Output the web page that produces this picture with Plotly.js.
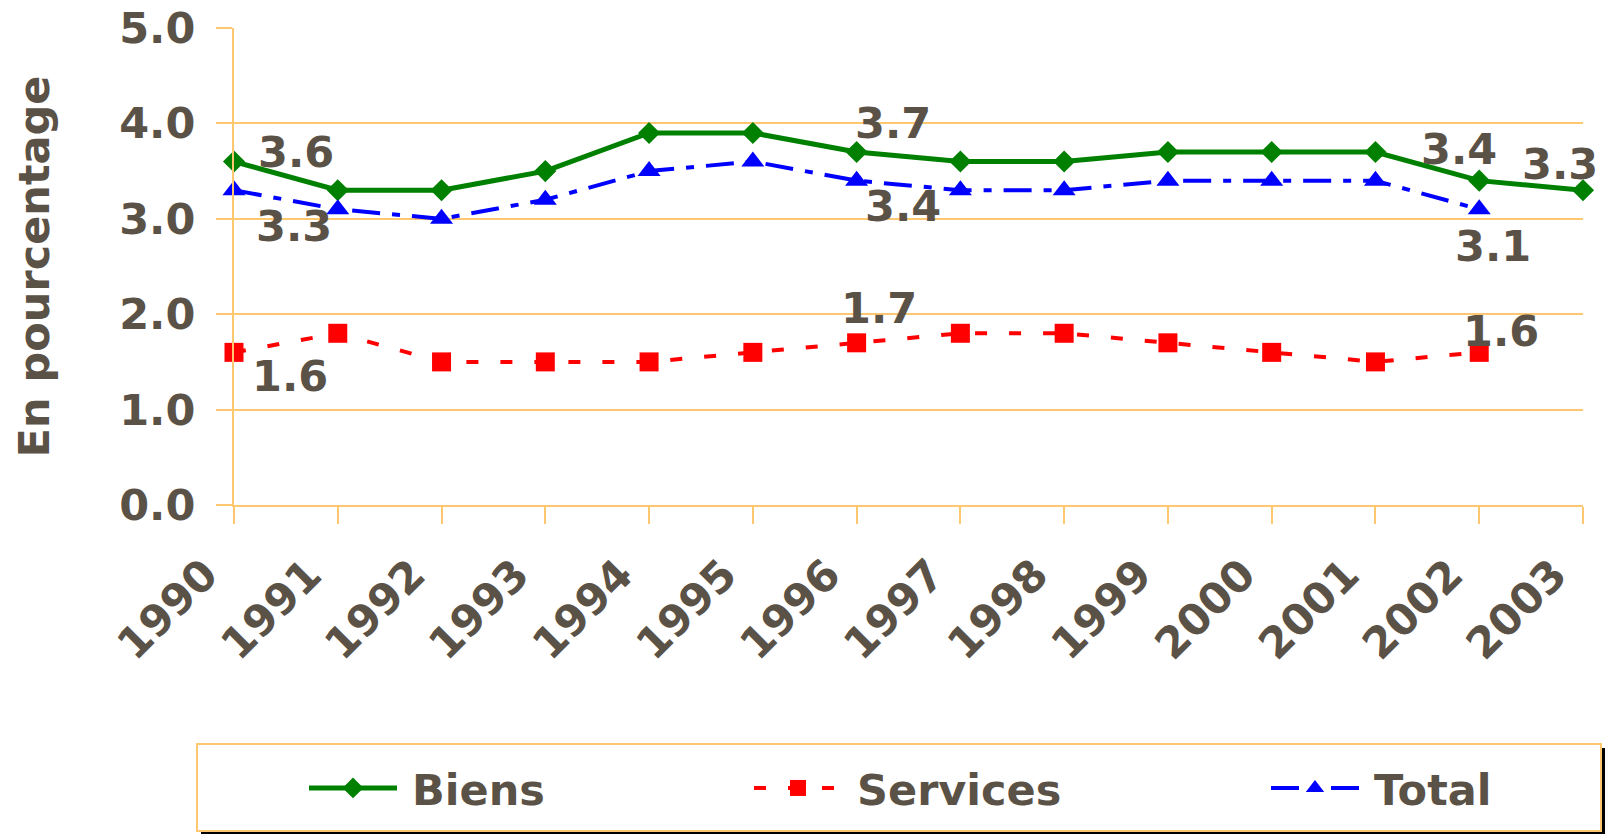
<!DOCTYPE html>
<html>
<head>
<meta charset="utf-8">
<script src="https://cdn.plot.ly/plotly-3.0.1.min.js"></script>
<style>html,body{margin:0;padding:0;background:#fff;}#chart{width:1609px;height:834px;}</style>
</head>
<body>
<div id="chart"></div>
<script>
const years = [1990,1991,1992,1993,1994,1995,1996,1997,1998,1999,2000,2001,2002,2003];
const biens = [3.6,3.3,3.3,3.5,3.9,3.9,3.7,3.6,3.6,3.7,3.7,3.7,3.4,3.3];
const services = [1.6,1.8,1.5,1.5,1.5,1.6,1.7,1.8,1.8,1.7,1.6,1.5,1.6,null];
const total = [3.3,3.1,3.0,3.2,3.5,3.6,3.4,3.3,3.3,3.4,3.4,3.4,3.1,null];
const yTicks = [0,1,2,3,4,5];
const labelIdxBiens = [0,6,12,13];
const labelIdxServices = [0,6,12];
const labelIdxTotal = [0,6,12];

const FONT = 'DejaVu Sans';
const TXT = '#5b5247';
const ORANGE = '#FFC870';
const FS = 43;

const traces = [
  {x: years, y: biens, name: 'Biens', legend: 'legend', mode: 'lines+markers', cliponaxis: false,
   line: {color: '#008000', width: 5}, marker: {symbol: 'diamond', size: 17, color: '#008000'}},
  {x: years, y: services, name: 'Services', legend: 'legend2', mode: 'lines+markers', cliponaxis: false,
   line: {color: '#FF0000', width: 4, dash: '12px,22px'}, marker: {symbol: 'square', size: 19, color: '#FF0000'}},
  {x: years, y: total, name: 'Total', legend: 'legend3', mode: 'lines+markers', cliponaxis: false,
   line: {color: '#0000FF', width: 4, dash: '28px,12px,8px,12px'}, marker: {symbol: 'triangle-up', size: 20, color: '#0000FF'}}
];

function lab(series, idx, shifts) {
  return idx.map((i, k) => ({
    x: years[i], y: series[i], xref: 'x', yref: 'y', text: series[i].toFixed(1),
    showarrow: false, xanchor: 'center', yanchor: 'middle',
    xshift: shifts[k][0], yshift: shifts[k][1],
    font: {family: FONT, size: FS, color: TXT, weight: 'bold'}
  }));
}
const annotations = [].concat(
  lab(biens, labelIdxBiens, [[62,10],[36,29],[-20,32],[-23,26]]),
  lab(total, labelIdxTotal, [[60,-36],[46,-25],[14,-37]]),
  lab(services, labelIdxServices, [[56,-24],[22,35],[22,21]])
);

const pw = 1349, ph = 477;
const shapes = [
  {type: 'rect', xref: 'paper', yref: 'paper', layer: 'below',
   x0: (197-234+4)/pw, x1: (1601-234+4)/pw, y0: (505-831-4)/ph, y1: (505-744-4)/ph,
   fillcolor: '#000', line: {width: 0}},
  {type: 'rect', xref: 'paper', yref: 'paper', layer: 'below',
   x0: (197-234)/pw, x1: (1601-234)/pw, y0: (505-831)/ph, y1: (505-744)/ph,
   fillcolor: '#fff', line: {color: ORANGE, width: 2}}
];

function leg(textStart) {
  return {orientation: 'h', x: (textStart - 40 - 234)/pw, xanchor: 'left', y: (505-788)/ph, yanchor: 'middle',
    bgcolor: 'rgba(0,0,0,0)', borderwidth: 0,
    font: {family: FONT, size: FS, color: TXT, weight: 'bold'}};
}

const layout = {
  width: 1609, height: 834,
  margin: {l: 234, r: 26, t: 28, b: 329, autoexpand: false},
  paper_bgcolor: '#fff', plot_bgcolor: '#fff',
  showlegend: true,
  font: {family: FONT, size: FS, color: TXT, weight: 'bold'},
  xaxis: {range: [1990, 2003], tickmode: 'array', tickvals: years, ticktext: years.map(String),
    tickangle: -45, showgrid: false, zeroline: false, showline: true, linecolor: ORANGE, linewidth: 2,
    ticks: 'outside', ticklen: 17, tickwidth: 2, tickcolor: ORANGE, ticklabelstandoff: 8, ticklabelshift: -29,
    tickfont: {family: FONT, size: FS, color: TXT, weight: 'bold'}, automargin: false},
  yaxis: {range: [0, 5], tickmode: 'array', tickvals: yTicks, ticktext: yTicks.map(v => v.toFixed(1)),
    showgrid: true, gridcolor: ORANGE, gridwidth: 2, zeroline: false, showline: true, linecolor: ORANGE, linewidth: 2,
    ticks: 'outside', ticklen: 16, tickwidth: 2, tickcolor: ORANGE, ticklabelstandoff: 12,
    tickfont: {family: FONT, size: FS, color: TXT, weight: 'bold'}, automargin: false,
    title: {text: 'En pourcentage', standoff: 56, font: {family: FONT, size: FS, color: TXT, weight: 'bold'}}},
  legend: leg(412),
  legend2: leg(857),
  legend3: leg(1374),
  annotations: annotations,
  shapes: shapes
};

Plotly.newPlot('chart', traces, layout, {displayModeBar: false, staticPlot: true}).then(function (gd) {
  // Excel-style long legend samples placed left of the legend text
  gd.querySelectorAll('g.traces').forEach(function (tr) {
    let el = tr.parentNode;
    while (el && el.tagName && el.tagName.toLowerCase() !== 'svg') {
      if (el.hasAttribute && el.hasAttribute('clip-path')) el.removeAttribute('clip-path');
      el = el.parentNode;
    }
    const layers = tr.querySelector('g.layers');
    if (layers) layers.setAttribute('transform', 'translate(-39,0)');
    tr.querySelectorAll('path.js-line').forEach(function (p) {
      p.setAttribute('d', 'M-24,0h88');
    });
  });
});
</script>
</body>
</html>
